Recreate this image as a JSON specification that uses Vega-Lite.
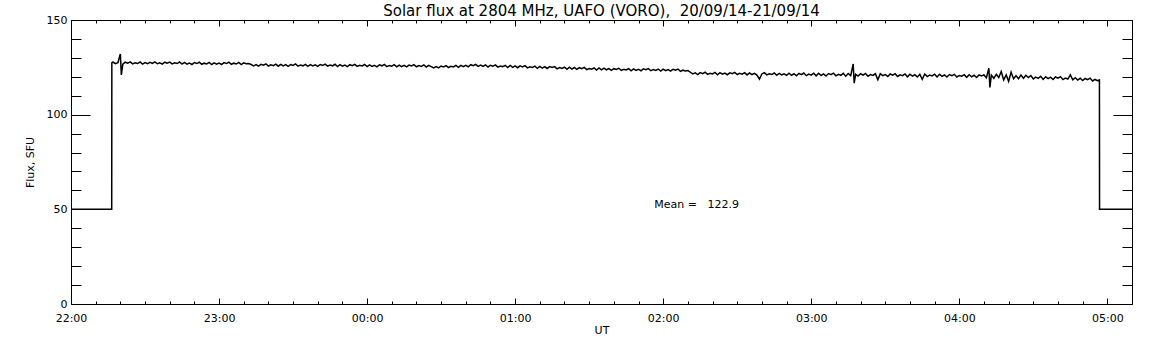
{
"$schema":"https://vega.github.io/schema/vega-lite/v6.json",
"width":1061,"height":284,
"autosize":"none",
"padding":{"left":71,"top":20,"right":20,"bottom":41},
"background":"white",
"config":{"view":{"stroke":null},"font":"DejaVu Sans","axis":{"grid":false,"domainColor":"black","tickColor":"black","labelColor":"black","titleColor":"black","labelFontSize":11,"titleFontSize":11,"titleFontWeight":"normal","labelFont":"DejaVu Sans","titleFont":"DejaVu Sans","tickWidth":1,"domainWidth":1,"labelOverlap":false}},
"title":{"text":"Solar flux at 2804 MHz, UAFO (VORO), \u00a020/09/14-21/09/14","fontSize":15,"fontWeight":"normal","font":"DejaVu Sans","color":"black","anchor":"middle","offset":-5},
"layer":[
{"data":{"values":[
{"m":0,"f":50},{"m":16.5,"f":50},{"m":16.55,"f":127.4},
{"m":17,"f":127.8},{"m":18,"f":126.9},{"m":19,"f":127.5},{"m":20,"f":132.0},{"m":20.4,"f":121.0},{"m":21,"f":126.7},{"m":22,"f":127.7},{"m":23,"f":127.2},{"m":24,"f":127.9},{"m":25,"f":126.8},{"m":26,"f":127.4},{"m":27,"f":127.0},{"m":28,"f":127.8},{"m":29,"f":126.7},{"m":30,"f":127.5},{"m":31,"f":126.9},{"m":32,"f":127.6},{"m":33,"f":127.1},{"m":34,"f":127.9},{"m":35,"f":126.9},{"m":36,"f":127.4},{"m":37,"f":126.7},{"m":38,"f":127.7},{"m":39,"f":127.2},{"m":40,"f":127.8},{"m":41,"f":126.8},{"m":42,"f":127.4},{"m":43,"f":127.0},{"m":44,"f":127.8},{"m":45,"f":126.7},{"m":46,"f":127.6},{"m":47,"f":126.7},{"m":48,"f":127.3},{"m":49,"f":126.5},{"m":50,"f":127.5},{"m":51,"f":127.0},{"m":52,"f":127.7},{"m":53,"f":126.6},{"m":54,"f":127.2},{"m":55,"f":126.8},{"m":56,"f":127.6},{"m":57,"f":126.5},{"m":58,"f":127.4},{"m":59,"f":126.7},{"m":60,"f":127.3},{"m":61,"f":126.5},{"m":62,"f":127.5},{"m":63,"f":127.0},{"m":64,"f":127.7},{"m":65,"f":126.6},{"m":66,"f":127.2},{"m":67,"f":126.8},{"m":68,"f":127.6},{"m":69,"f":126.5},{"m":70,"f":127.4},{"m":71,"f":126.9},{"m":72,"f":127.0},
{"m":73,"f":126.5},{"m":74,"f":125.8},{"m":75,"f":126.4},{"m":76,"f":125.6},{"m":77,"f":126.6},{"m":78,"f":126.1},{"m":79,"f":126.8},{"m":80,"f":125.7},{"m":81,"f":126.3},{"m":82,"f":125.9},{"m":83,"f":126.7},{"m":84,"f":125.6},{"m":85,"f":126.6},{"m":86,"f":125.8},{"m":87,"f":126.4},{"m":88,"f":125.5},{"m":89,"f":126.5},{"m":90,"f":126.0},{"m":91,"f":126.8},{"m":92,"f":125.6},{"m":93,"f":126.2},{"m":94,"f":125.8},{"m":95,"f":126.6},{"m":96,"f":125.5},{"m":97,"f":126.4},{"m":98,"f":125.7},{"m":99,"f":126.3},{"m":100,"f":125.5},{"m":101,"f":126.5},{"m":102,"f":126.0},{"m":103,"f":126.7},{"m":104,"f":125.6},{"m":105,"f":126.2},{"m":106,"f":125.8},{"m":107,"f":126.6},{"m":108,"f":125.4},{"m":109,"f":126.4},{"m":110,"f":125.6},{"m":111,"f":126.2},{"m":112,"f":125.4},{"m":113,"f":126.4},{"m":114,"f":125.9},{"m":115,"f":126.6},{"m":116,"f":125.5},{"m":117,"f":126.1},{"m":118,"f":125.7},{"m":119,"f":126.5},{"m":120,"f":125.4},{"m":121,"f":126.3},{"m":122,"f":125.5},{"m":123,"f":126.1},{"m":124,"f":125.3},{"m":125,"f":126.3},{"m":126,"f":125.8},{"m":127,"f":126.5},{"m":128,"f":125.4},{"m":129,"f":126.0},{"m":130,"f":125.6},{"m":131,"f":126.4},{"m":132,"f":125.3},{"m":133,"f":126.2},{"m":134,"f":125.4},{"m":135,"f":126.0},{"m":136,"f":125.2},{"m":137,"f":126.2},{"m":138,"f":125.7},{"m":139,"f":126.4},{"m":140,"f":125.3},{"m":141,"f":125.9},{"m":142,"f":125.5},{"m":143,"f":126.3},{"m":144,"f":125.2},{"m":145,"f":126.0},
{"m":146,"f":125.4},{"m":147,"f":124.7},{"m":148,"f":125.4},{"m":149,"f":124.7},{"m":150,"f":125.7},{"m":151,"f":125.2},{"m":152,"f":125.9},{"m":153,"f":124.9},{"m":154,"f":125.5},{"m":155,"f":125.2},{"m":156,"f":126.0},{"m":157,"f":125.0},{"m":158,"f":126.0},{"m":159,"f":125.3},{"m":160,"f":126.0},{"m":161,"f":125.3},{"m":162,"f":126.4},{"m":163,"f":125.9},{"m":164,"f":126.6},{"m":165,"f":125.5},
{"m":166,"f":126.2},{"m":167,"f":125.5},{"m":168,"f":126.3},{"m":169,"f":125.2},{"m":170,"f":126.1},{"m":171,"f":125.6},{"m":172,"f":126.3},{"m":173,"f":125.1},{"m":174,"f":125.7},{"m":175,"f":125.3},{"m":176,"f":126.0},{"m":177,"f":124.9},{"m":178,"f":126.0},{"m":179,"f":125.0},{"m":180,"f":125.8},{"m":181,"f":124.8},{"m":182,"f":125.8},{"m":183,"f":125.2},{"m":184,"f":125.9},{"m":185,"f":124.7},{"m":186,"f":125.3},{"m":187,"f":124.9},{"m":188,"f":125.6},{"m":189,"f":124.5},{"m":190,"f":125.5},{"m":191,"f":124.6},{"m":192,"f":125.4},{"m":193,"f":124.4},{"m":194,"f":125.4},{"m":195,"f":124.9},{"m":196,"f":125.4},{"m":197,"f":124.2},{"m":198,"f":124.9},{"m":199,"f":124.4},{"m":200,"f":125.1},{"m":201,"f":124.0},{"m":202,"f":125.1},{"m":203,"f":124.1},{"m":204,"f":124.9},{"m":205,"f":123.9},{"m":206,"f":124.8},{"m":207,"f":124.3},{"m":208,"f":125.0},{"m":209,"f":123.8},{"m":210,"f":124.4},{"m":211,"f":124.0},{"m":212,"f":124.7},{"m":213,"f":123.6},{"m":214,"f":124.7},{"m":215,"f":123.7},
{"m":216,"f":124.6},{"m":217,"f":123.7},{"m":218,"f":124.3},{"m":219,"f":123.4},{"m":220,"f":124.3},{"m":221,"f":123.9},{"m":222,"f":124.5},{"m":223,"f":123.4},{"m":224,"f":124.0},{"m":225,"f":123.6},{"m":226,"f":124.3},{"m":227,"f":123.2},{"m":228,"f":124.2},{"m":229,"f":123.4},{"m":230,"f":124.0},{"m":231,"f":123.2},{"m":232,"f":124.2},{"m":233,"f":123.7},{"m":234,"f":124.3},{"m":235,"f":123.2},{"m":236,"f":123.8},{"m":237,"f":123.4},{"m":238,"f":124.1},{"m":239,"f":123.0},{"m":240,"f":124.0},{"m":241,"f":123.2},{"m":242,"f":123.8},{"m":243,"f":123.0},{"m":244,"f":124.0},{"m":245,"f":123.5},{"m":246,"f":124.1},{"m":247,"f":122.9},{"m":248,"f":123.5},{"m":249,"f":123.1},{"m":250,"f":123.3},
{"m":251,"f":122.4},{"m":252,"f":121.5},{"m":253,"f":122.1},{"m":254,"f":121.2},{"m":255,"f":122.2},{"m":256,"f":121.7},{"m":257,"f":122.4},{"m":258,"f":121.3},{"m":259,"f":121.9},{"m":260,"f":121.5},{"m":261,"f":122.3},{"m":262,"f":121.1},{"m":263,"f":122.2},{"m":264,"f":121.4},{"m":265,"f":122.0},{"m":266,"f":121.1},{"m":267,"f":122.1},{"m":268,"f":121.6},{"m":269,"f":122.3},{"m":270,"f":121.2},{"m":271,"f":121.8},{"m":272,"f":121.4},{"m":273,"f":122.2},{"m":274,"f":121.0},{"m":275,"f":122.0},{"m":276,"f":121.2},{"m":277,"f":121.8},{"m":278,"f":120.9},{"m":279,"f":118.8},{"m":280,"f":121.5},{"m":281,"f":122.2},{"m":282,"f":121.0},{"m":283,"f":121.6},{"m":284,"f":121.2},{"m":285,"f":122.0},{"m":286,"f":120.8},{"m":287,"f":121.8},{"m":288,"f":121.0},{"m":289,"f":121.6},{"m":290,"f":120.8},
{"m":291,"f":121.9},{"m":292,"f":120.8},{"m":293,"f":121.6},{"m":294,"f":120.5},{"m":295,"f":121.8},{"m":296,"f":121.1},{"m":297,"f":122.0},{"m":298,"f":120.6},{"m":299,"f":121.4},{"m":300,"f":120.9},{"m":301,"f":121.9},{"m":302,"f":120.5},{"m":303,"f":121.9},{"m":304,"f":120.7},{"m":305,"f":121.5},{"m":306,"f":120.4},{"m":307,"f":121.7},{"m":308,"f":121.1},{"m":309,"f":121.9},{"m":310,"f":120.5},{"m":311,"f":121.3},{"m":312,"f":120.8},{"m":313,"f":121.8},{"m":314,"f":120.3},{"m":315,"f":121.7},{"m":316,"f":120.6},{"m":317,"f":126.8},{"m":317.4,"f":116.6},{"m":318,"f":121.3},{"m":319,"f":120.4},{"m":320,"f":121.6},{"m":321,"f":120.9},{"m":322,"f":121.8},{"m":323,"f":120.3},{"m":324,"f":121.2},{"m":325,"f":120.7},{"m":326,"f":121.6},{"m":327,"f":118.4},{"m":328,"f":121.6},{"m":329,"f":120.6},{"m":330,"f":121.2},{"m":331,"f":120.2},{"m":332,"f":121.5},{"m":333,"f":120.9},{"m":334,"f":121.6},{"m":335,"f":120.2},{"m":336,"f":121.0},{"m":337,"f":120.6},{"m":338,"f":121.5},{"m":339,"f":120.0},{"m":340,"f":121.4},{"m":341,"f":120.4},{"m":342,"f":121.1},{"m":343,"f":119.9},{"m":344,"f":121.3},{"m":345,"f":118.7},{"m":346,"f":121.5},{"m":347,"f":120.1},{"m":348,"f":120.9},{"m":349,"f":120.5},{"m":350,"f":121.4},{"m":351,"f":119.9},{"m":352,"f":121.3},{"m":353,"f":120.2},{"m":354,"f":121.0},{"m":355,"f":119.9},{"m":356,"f":121.2},{"m":357,"f":120.6},{"m":358,"f":121.3},{"m":359,"f":119.9},{"m":360,"f":120.7},{"m":361,"f":120.3},{"m":362,"f":121.1},{"m":363,"f":119.7},{"m":364,"f":121.1},{"m":365,"f":120.0},{"m":366,"f":120.8},{"m":367,"f":119.6},{"m":368,"f":121.0},{"m":369,"f":120.4},{"m":370,"f":121.0},
{"m":371,"f":119.5},{"m":372,"f":124.5},{"m":372.4,"f":114.4},{"m":373,"f":120.9},{"m":374,"f":119.2},{"m":375,"f":121.3},{"m":376,"f":119.6},{"m":377,"f":122.8},{"m":378,"f":118.3},{"m":379,"f":121.0},{"m":380,"f":117.6},{"m":381,"f":122.4},{"m":382,"f":119.0},{"m":383,"f":120.6},{"m":384,"f":119.0},{"m":385,"f":120.9},{"m":386,"f":119.2},{"m":387,"f":120.8},{"m":388,"f":119.6},{"m":389,"f":120.6},{"m":390,"f":118.9},{"m":391,"f":119.8},{"m":392,"f":119.2},{"m":393,"f":120.3},{"m":394,"f":118.6},{"m":395,"f":120.0},{"m":396,"f":119.0},{"m":397,"f":119.8},{"m":398,"f":118.6},{"m":399,"f":119.9},{"m":400,"f":119.3},{"m":401,"f":120.1},{"m":402,"f":118.5},{"m":403,"f":119.3},{"m":404,"f":118.8},{"m":405,"f":121.0},{"m":406,"f":118.4},{"m":407,"f":119.5},{"m":408,"f":118.3},{"m":409,"f":119.2},{"m":410,"f":118.0},{"m":411,"f":119.1},{"m":412,"f":118.5},{"m":413,"f":119.3},{"m":414,"f":117.8},{"m":415,"f":118.6},{"m":416,"f":118.0},{"m":416.8,"f":118.3},{"m":416.85,"f":50},{"m":430,"f":50}
]},
"mark":{"type":"line","color":"black","strokeWidth":1.5},
"encoding":{
"x":{"field":"m","type":"quantitative","scale":{"domain":[0,430],"nice":false,"zero":false},
"axis":{"orient":"bottom","values":[0,10,20,30,40,50,60,70,80,90,100,110,120,130,140,150,160,170,180,190,200,210,220,230,240,250,260,270,280,290,300,310,320,330,340,350,360,370,380,390,400,410,420,430],
"labelExpr":"datum.value % 60 == 0 ? ((((22 + floor(datum.value/60)) % 24) < 10 ? '0' : '') + ((22 + floor(datum.value/60)) % 24) + ':00') : ''",
"tickSize":{"condition":{"test":"datum.value % 60 == 0","value":-6},"value":-3},
"labelPadding":14,"labelBaseline":"top","labelFlush":false,"title":"UT","titlePadding":-2}},
"y":{"field":"f","type":"quantitative","scale":{"domain":[0,150],"nice":false},
"axis":{"orient":"left","values":[0,10,20,30,40,50,60,70,80,90,100,110,120,130,140,150],
"labelExpr":"datum.value % 50 == 0 ? datum.label : ''",
"tickSize":{"condition":{"test":"datum.value % 50 == 0","value":-19},"value":-10},
"labelPadding":23,"labelBaseline":"middle","labelFlush":true,"title":"Flux, SFU","titlePadding":11}}
}},
{"data":{"values":[{"m":236.4,"f":52.3,"label":"Mean =\u00a0\u00a0 122.9"}]},
"mark":{"type":"text","align":"left","baseline":"middle","fontSize":11,"font":"DejaVu Sans","color":"black"},
"encoding":{
"x":{"field":"m","type":"quantitative","scale":{"domain":[0,430],"nice":false,"zero":false},
"axis":{"orient":"top","values":[0,10,20,30,40,50,60,70,80,90,100,110,120,130,140,150,160,170,180,190,200,210,220,230,240,250,260,270,280,290,300,310,320,330,340,350,360,370,380,390,400,410,420,430],"labels":false,"title":null,
"tickSize":{"condition":{"test":"datum.value % 60 == 0","value":-6},"value":-3}}},
"y":{"field":"f","type":"quantitative","scale":{"domain":[0,150],"nice":false},
"axis":{"orient":"right","values":[0,10,20,30,40,50,60,70,80,90,100,110,120,130,140,150],"labels":false,"title":null,
"tickSize":{"condition":{"test":"datum.value % 50 == 0","value":-19},"value":-10}}},
"text":{"field":"label"}
}}
],
"resolve":{"axis":{"x":"independent","y":"independent"}}
}
